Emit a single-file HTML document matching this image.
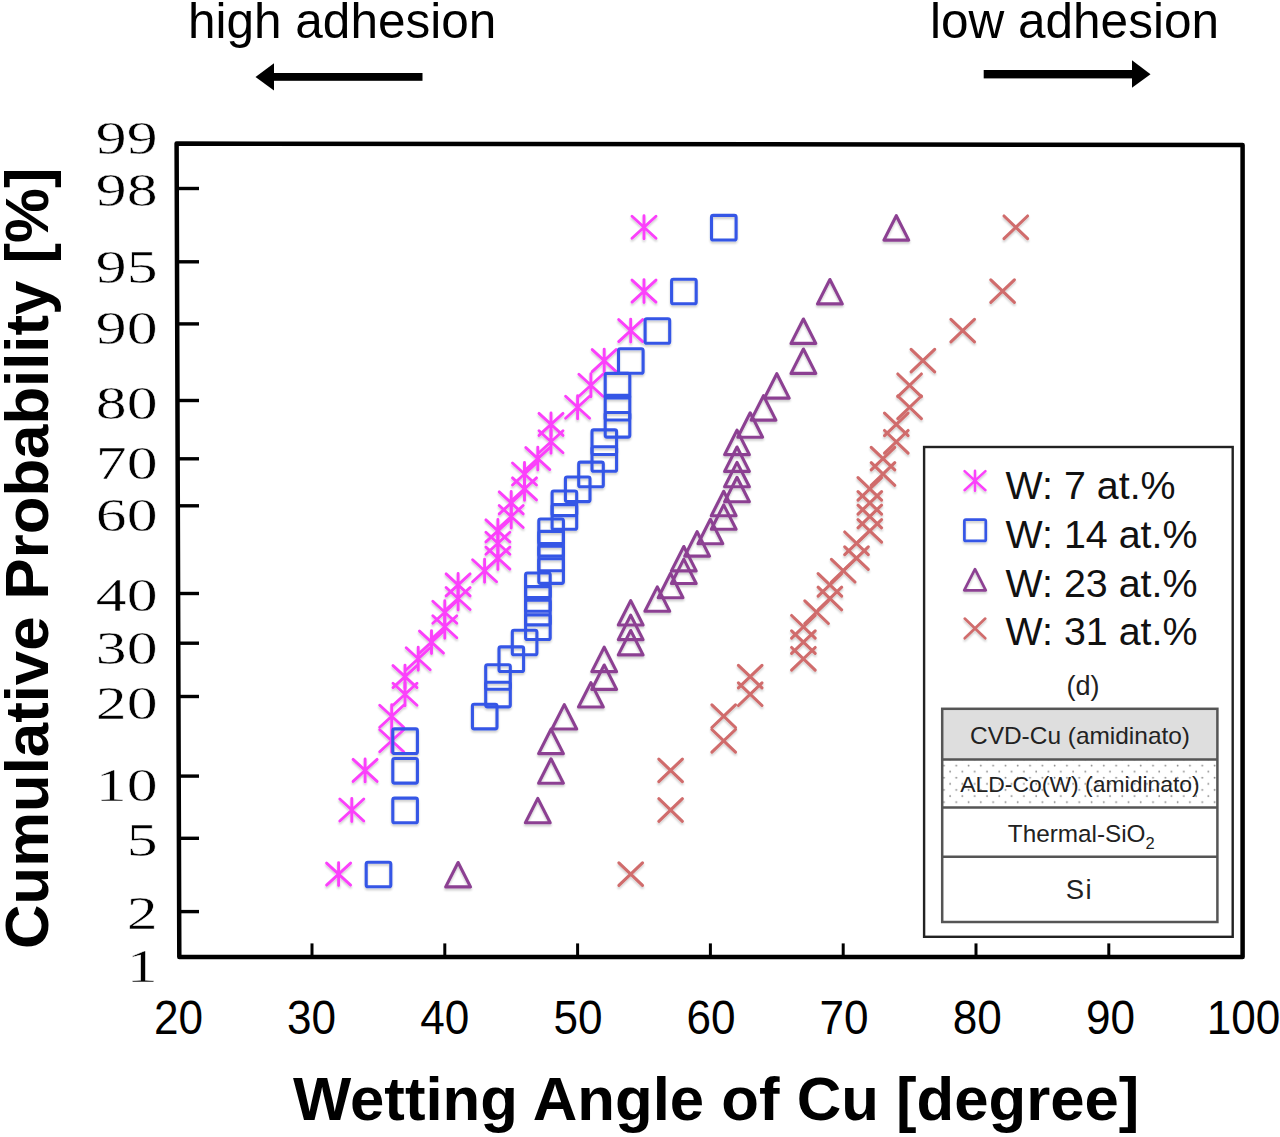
<!DOCTYPE html>
<html><head><meta charset="utf-8"><title>Wetting angle probability plot</title>
<style>
html,body{margin:0;padding:0;background:#fff;}
body{width:1280px;height:1137px;overflow:hidden;}
svg{display:block;}
.sans{font-family:"Liberation Sans",sans-serif;}
.serif{font-family:"Liberation Serif",serif;}
</style></head><body>
<svg width="1280" height="1137" viewBox="0 0 1280 1137">
<defs>
<pattern id="dots" x="0" y="0" width="12.3" height="12.2" patternUnits="userSpaceOnUse">
<circle cx="3" cy="3" r="0.9" fill="#888"/>
<circle cx="9.15" cy="9.1" r="0.9" fill="#888"/>
</pattern>
<filter id="sh" x="-30%" y="-30%" width="160%" height="160%">
<feGaussianBlur in="SourceAlpha" stdDeviation="1.3"/>
<feOffset dx="0.3" dy="1.8" result="b"/>
<feComponentTransfer><feFuncA type="linear" slope="0.2"/></feComponentTransfer>
<feMerge><feMergeNode/><feMergeNode in="SourceGraphic"/></feMerge>
</filter>
<g id="mA" fill="none" stroke="#fb40fb" stroke-width="2.9" stroke-linecap="round"><path d="M-12,-11L12,11M-12,11L12,-11M0,-11.5V11.5"/></g>
<g id="mB" fill="none" stroke="#3556e6" stroke-width="3.1" stroke-linejoin="round"><rect x="-12.2" y="-11.9" width="24.6" height="24.6" rx="1.8"/></g>
<g id="mT" fill="none" stroke="#8c4192" stroke-width="3.1" stroke-linejoin="round"><path d="M0,-11.6L12.4,12.8H-12.4Z"/></g>
<g id="mX" fill="none" stroke="#d06c6c" stroke-width="3.1" stroke-linecap="round"><path d="M-11.8,-11.3L11.8,11.3M-11.8,11.3L11.8,-11.3"/></g>
</defs>
<rect width="1280" height="1137" fill="#fff"/>

<text class="sans" x="188" y="37.5" font-size="49.5" fill="#000">high adhesion</text>
<text class="sans" x="930" y="38" font-size="49.5" fill="#000">low adhesion</text>
<rect x="271" y="73" width="151.5" height="7.8" fill="#000"/>
<path d="M255.5,77L274,63.2L274,90.4Z" fill="#000"/>
<rect x="983.7" y="70" width="150" height="8.4" fill="#000"/>
<path d="M1150.5,74.2L1132,60.3L1132,87.8Z" fill="#000"/>
<path d="M176.6,143.6L1242.6,145L1242.6,957L179.3,957Z" stroke="#000" stroke-width="4.5" fill="none" stroke-linejoin="round"/>
<g stroke="#000" stroke-width="3.4">
<path d="M178,188.5 H199"/>
<path d="M178,261.8 H199"/>
<path d="M178,323.9 H199"/>
<path d="M178,400.5 H199"/>
<path d="M178,458.8 H199"/>
<path d="M178,505.8 H199"/>
<path d="M178,593.5 H199"/>
<path d="M178,643.2 H199"/>
<path d="M178,696.5 H199"/>
<path d="M178,776.1 H199"/>
<path d="M178,838.3 H199"/>
<path d="M178,911.6 H199"/>
</g>
<g stroke="#000" stroke-width="3">
<path d="M312,943.4 V957"/>
<path d="M444.8,943.4 V957"/>
<path d="M577.6,943.4 V957"/>
<path d="M710.4,943.4 V957"/>
<path d="M843.2,943.4 V957"/>
<path d="M976,943.4 V957"/>
<path d="M1108.8,943.4 V957"/>
</g>
<text class="serif" x="0" y="0" font-size="45.4" text-anchor="end" transform="translate(157.6,153.9) scale(1.36,1)" stroke="#fff" stroke-width="0.45">99</text>
<text class="serif" x="0" y="0" font-size="45.4" text-anchor="end" transform="translate(157.6,206.2) scale(1.36,1)" stroke="#fff" stroke-width="0.45">98</text>
<text class="serif" x="0" y="0" font-size="45.4" text-anchor="end" transform="translate(157.6,282.9) scale(1.36,1)" stroke="#fff" stroke-width="0.45">95</text>
<text class="serif" x="0" y="0" font-size="45.4" text-anchor="end" transform="translate(157.6,344.1) scale(1.36,1)" stroke="#fff" stroke-width="0.45">90</text>
<text class="serif" x="0" y="0" font-size="45.4" text-anchor="end" transform="translate(157.6,418.6) scale(1.36,1)" stroke="#fff" stroke-width="0.45">80</text>
<text class="serif" x="0" y="0" font-size="45.4" text-anchor="end" transform="translate(157.6,478.8) scale(1.36,1)" stroke="#fff" stroke-width="0.45">70</text>
<text class="serif" x="0" y="0" font-size="45.4" text-anchor="end" transform="translate(157.6,530.8) scale(1.36,1)" stroke="#fff" stroke-width="0.45">60</text>
<text class="serif" x="0" y="0" font-size="45.4" text-anchor="end" transform="translate(157.6,610.6) scale(1.36,1)" stroke="#fff" stroke-width="0.45">40</text>
<text class="serif" x="0" y="0" font-size="45.4" text-anchor="end" transform="translate(157.6,663.9) scale(1.36,1)" stroke="#fff" stroke-width="0.45">30</text>
<text class="serif" x="0" y="0" font-size="45.4" text-anchor="end" transform="translate(157.6,718.8) scale(1.36,1)" stroke="#fff" stroke-width="0.45">20</text>
<text class="serif" x="0" y="0" font-size="45.4" text-anchor="end" transform="translate(157.6,800.8) scale(1.36,1)" stroke="#fff" stroke-width="0.45">10</text>
<text class="serif" x="0" y="0" font-size="45.4" text-anchor="end" transform="translate(157.6,855.6) scale(1.36,1)" stroke="#fff" stroke-width="0.45">5</text>
<text class="serif" x="0" y="0" font-size="45.4" text-anchor="end" transform="translate(157.6,928.6) scale(1.36,1)" stroke="#fff" stroke-width="0.45">2</text>
<text class="serif" x="0" y="0" font-size="45.4" text-anchor="end" transform="translate(157.6,981.9) scale(1.36,1)" stroke="#fff" stroke-width="0.45">1</text>
<text class="sans" x="0" y="0" font-size="49" text-anchor="middle" transform="translate(178.5,1034.4) scale(0.9,1)">20</text>
<text class="sans" x="0" y="0" font-size="49" text-anchor="middle" transform="translate(311.6,1034.4) scale(0.9,1)">30</text>
<text class="sans" x="0" y="0" font-size="49" text-anchor="middle" transform="translate(444.8,1034.4) scale(0.9,1)">40</text>
<text class="sans" x="0" y="0" font-size="49" text-anchor="middle" transform="translate(577.9,1034.4) scale(0.9,1)">50</text>
<text class="sans" x="0" y="0" font-size="49" text-anchor="middle" transform="translate(711,1034.4) scale(0.9,1)">60</text>
<text class="sans" x="0" y="0" font-size="49" text-anchor="middle" transform="translate(844.1,1034.4) scale(0.9,1)">70</text>
<text class="sans" x="0" y="0" font-size="49" text-anchor="middle" transform="translate(977.2,1034.4) scale(0.9,1)">80</text>
<text class="sans" x="0" y="0" font-size="49" text-anchor="middle" transform="translate(1110.4,1034.4) scale(0.9,1)">90</text>
<text class="sans" x="0" y="0" font-size="49" text-anchor="middle" transform="translate(1243.5,1034.4) scale(0.9,1)">100</text>
<text class="sans" font-weight="bold" font-size="61.7" x="0" y="0" text-anchor="middle" transform="translate(47.5,558.3) rotate(-90)">Cumulative Probability [%]</text>
<text class="sans" font-weight="bold" font-size="61.7" x="716.2" y="1120" text-anchor="middle">Wetting Angle of Cu [degree]</text>
<g filter="url(#sh)">
<use href="#mA" x="644" y="227.3"/>
<use href="#mA" x="644" y="291.1"/>
<use href="#mA" x="630.7" y="330.6"/>
<use href="#mA" x="604.2" y="360.6"/>
<use href="#mA" x="590.9" y="385.3"/>
<use href="#mA" x="577.6" y="407.3"/>
<use href="#mA" x="551" y="424.4"/>
<use href="#mA" x="551" y="441.8"/>
<use href="#mA" x="537.8" y="458.6"/>
<use href="#mA" x="524.5" y="474"/>
<use href="#mA" x="524.5" y="488.9"/>
<use href="#mA" x="511.2" y="502.9"/>
<use href="#mA" x="511.2" y="516.5"/>
<use href="#mA" x="497.9" y="530.9"/>
<use href="#mA" x="497.9" y="543.3"/>
<use href="#mA" x="497.9" y="558.1"/>
<use href="#mA" x="484.6" y="570.7"/>
<use href="#mA" x="458.1" y="584.9"/>
<use href="#mA" x="458.1" y="598.5"/>
<use href="#mA" x="444.8" y="612.2"/>
<use href="#mA" x="444.8" y="626.8"/>
<use href="#mA" x="431.5" y="642.1"/>
<use href="#mA" x="418.2" y="658.8"/>
<use href="#mA" x="405" y="676.6"/>
<use href="#mA" x="405" y="694.2"/>
<use href="#mA" x="391.7" y="716.2"/>
<use href="#mA" x="391.7" y="740.8"/>
<use href="#mA" x="365.1" y="770.4"/>
<use href="#mA" x="351.8" y="810"/>
<use href="#mA" x="338.6" y="874.1"/>
<use href="#mB" x="723.7" y="227.3"/>
<use href="#mB" x="683.8" y="291.1"/>
<use href="#mB" x="657.3" y="330.6"/>
<use href="#mB" x="630.7" y="360.6"/>
<use href="#mB" x="617.4" y="385.3"/>
<use href="#mB" x="617.4" y="407.3"/>
<use href="#mB" x="617.4" y="424.4"/>
<use href="#mB" x="604.2" y="441.8"/>
<use href="#mB" x="604.2" y="458.6"/>
<use href="#mB" x="590.9" y="474"/>
<use href="#mB" x="577.6" y="488.9"/>
<use href="#mB" x="564.3" y="502.9"/>
<use href="#mB" x="564.3" y="516.5"/>
<use href="#mB" x="551" y="530.9"/>
<use href="#mB" x="551" y="543.3"/>
<use href="#mB" x="551" y="558.1"/>
<use href="#mB" x="551" y="570.7"/>
<use href="#mB" x="537.8" y="584.9"/>
<use href="#mB" x="537.8" y="598.5"/>
<use href="#mB" x="537.8" y="612.2"/>
<use href="#mB" x="537.8" y="626.8"/>
<use href="#mB" x="524.5" y="642.1"/>
<use href="#mB" x="511.2" y="658.8"/>
<use href="#mB" x="497.9" y="676.6"/>
<use href="#mB" x="497.9" y="694.2"/>
<use href="#mB" x="484.6" y="716.2"/>
<use href="#mB" x="405" y="740.8"/>
<use href="#mB" x="405" y="770.4"/>
<use href="#mB" x="405" y="810"/>
<use href="#mB" x="378.4" y="874.1"/>
<use href="#mT" x="896.3" y="227.3"/>
<use href="#mT" x="829.9" y="291.1"/>
<use href="#mT" x="803.4" y="330.6"/>
<use href="#mT" x="803.4" y="360.6"/>
<use href="#mT" x="776.8" y="385.3"/>
<use href="#mT" x="763.5" y="407.3"/>
<use href="#mT" x="750.2" y="424.4"/>
<use href="#mT" x="737" y="441.8"/>
<use href="#mT" x="737" y="458.6"/>
<use href="#mT" x="737" y="474"/>
<use href="#mT" x="737" y="488.9"/>
<use href="#mT" x="723.7" y="502.9"/>
<use href="#mT" x="723.7" y="516.5"/>
<use href="#mT" x="710.4" y="530.9"/>
<use href="#mT" x="697.1" y="543.3"/>
<use href="#mT" x="683.8" y="558.1"/>
<use href="#mT" x="683.8" y="570.7"/>
<use href="#mT" x="670.6" y="584.9"/>
<use href="#mT" x="657.3" y="598.5"/>
<use href="#mT" x="630.7" y="612.2"/>
<use href="#mT" x="630.7" y="626.8"/>
<use href="#mT" x="630.7" y="642.1"/>
<use href="#mT" x="604.2" y="658.8"/>
<use href="#mT" x="604.2" y="676.6"/>
<use href="#mT" x="590.9" y="694.2"/>
<use href="#mT" x="564.3" y="716.2"/>
<use href="#mT" x="551" y="740.8"/>
<use href="#mT" x="551" y="770.4"/>
<use href="#mT" x="537.8" y="810"/>
<use href="#mT" x="458.1" y="874.1"/>
<use href="#mX" x="1015.8" y="227.3"/>
<use href="#mX" x="1002.6" y="291.1"/>
<use href="#mX" x="962.7" y="330.6"/>
<use href="#mX" x="922.9" y="360.6"/>
<use href="#mX" x="909.6" y="385.3"/>
<use href="#mX" x="909.6" y="407.3"/>
<use href="#mX" x="896.3" y="424.4"/>
<use href="#mX" x="896.3" y="441.8"/>
<use href="#mX" x="883" y="458.6"/>
<use href="#mX" x="883" y="474"/>
<use href="#mX" x="869.8" y="488.9"/>
<use href="#mX" x="869.8" y="502.9"/>
<use href="#mX" x="869.8" y="516.5"/>
<use href="#mX" x="869.8" y="530.9"/>
<use href="#mX" x="856.5" y="543.3"/>
<use href="#mX" x="856.5" y="558.1"/>
<use href="#mX" x="843.2" y="570.7"/>
<use href="#mX" x="829.9" y="584.9"/>
<use href="#mX" x="829.9" y="598.5"/>
<use href="#mX" x="816.6" y="612.2"/>
<use href="#mX" x="803.4" y="626.8"/>
<use href="#mX" x="803.4" y="642.1"/>
<use href="#mX" x="803.4" y="658.8"/>
<use href="#mX" x="750.2" y="676.6"/>
<use href="#mX" x="750.2" y="694.2"/>
<use href="#mX" x="723.7" y="716.2"/>
<use href="#mX" x="723.7" y="740.8"/>
<use href="#mX" x="670.6" y="770.4"/>
<use href="#mX" x="670.6" y="810"/>
<use href="#mX" x="630.7" y="874.1"/>
</g>
<rect x="924.1" y="447" width="308.6" height="489.8" fill="#fff" stroke="#222" stroke-width="2.4"/>
<g filter="url(#sh)">
<use href="#mA" transform="translate(975,480.7) scale(0.87)"/>
<use href="#mB" transform="translate(975,529.9) scale(0.87)"/>
<use href="#mT" transform="translate(975,579.2) scale(0.87)"/>
<use href="#mX" transform="translate(975,628.4) scale(0.87)"/>
</g>
<text class="sans" x="1005.6" y="498.7" font-size="39.4" fill="#111">W: 7 at.%</text>
<text class="sans" x="1005.6" y="547.7" font-size="39.4" fill="#111">W: 14 at.%</text>
<text class="sans" x="1005.6" y="597" font-size="39.4" fill="#111">W: 23 at.%</text>
<text class="sans" x="1005.6" y="645.1" font-size="39.4" fill="#111">W: 31 at.%</text>
<text class="sans" x="1083" y="695" font-size="27" text-anchor="middle" fill="#222">(d)</text>
<rect x="942.2" y="708.8" width="275.2" height="50.7" fill="#dedede"/>
<rect x="942.2" y="759.5" width="275.2" height="47.9" fill="url(#dots)"/>
<g stroke="#555" stroke-width="2.5" fill="none">
<rect x="942.2" y="708.8" width="275.2" height="213.2"/>
<path d="M942.2,759.5H1217.4M942.2,807.4H1217.4M942.2,856.7H1217.4"/>
</g>
<text class="sans" x="1080" y="743.8" font-size="24" text-anchor="middle" fill="#222" textLength="220" lengthAdjust="spacingAndGlyphs">CVD-Cu (amidinato)</text>
<text class="sans" x="1080" y="792.2" font-size="22.5" text-anchor="middle" fill="#222" textLength="239.5" lengthAdjust="spacingAndGlyphs">ALD-Co(W) (amidinato)</text>
<text class="sans" x="1007.8" y="841.9" font-size="24.3" fill="#222">Thermal-SiO<tspan font-size="16.5" dy="6.6">2</tspan></text>
<text class="sans" x="1079.5" y="899" font-size="27.5" text-anchor="middle" fill="#222" letter-spacing="1.5">Si</text>
</svg>
</body></html>
